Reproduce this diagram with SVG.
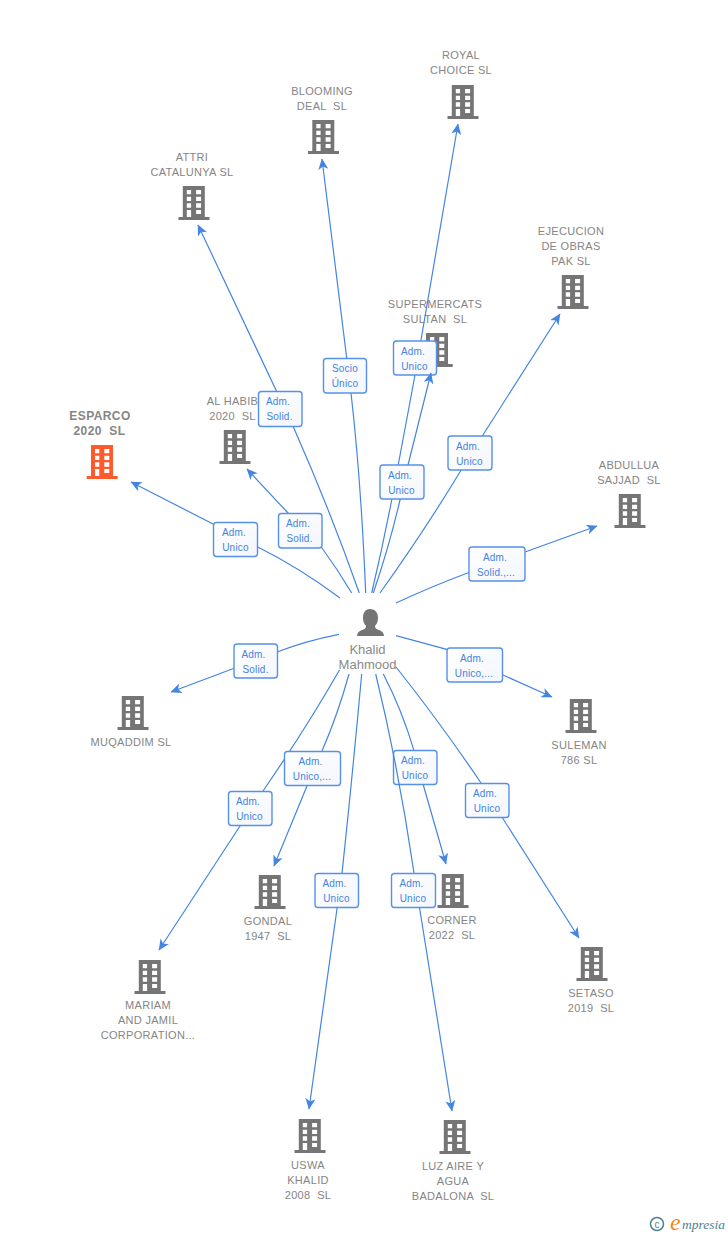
<svg xmlns="http://www.w3.org/2000/svg" width="728" height="1235" viewBox="0 0 728 1235">
<style>
.n{font:11px "Liberation Sans",Arial,sans-serif;fill:#858585;text-anchor:middle;white-space:pre;letter-spacing:.3px}
.h{font:bold 12px "Liberation Sans",Arial,sans-serif;fill:#858585;text-anchor:middle;white-space:pre;letter-spacing:.4px}
.p{font:13px "Liberation Sans",Arial,sans-serif;fill:#8a8a8a;text-anchor:middle}
.l{font:10px "Liberation Sans",Arial,sans-serif;fill:#4583e0;text-anchor:middle;letter-spacing:.2px}
.c{fill:none;stroke:#4485e2;stroke-width:1.2}
.b{fill:url(#g);stroke:#5691e8;stroke-width:1.4}
</style>
<defs>
<linearGradient id="g" x1="0" y1="0" x2="1" y2="1"><stop offset="0" stop-color="#fff"/><stop offset="1" stop-color="#f3f6fb"/></linearGradient>
<marker id="a" markerUnits="userSpaceOnUse" markerWidth="13" markerHeight="11" refX="10.500" refY="5" orient="auto"><path d="M0 0L11 5L0 10L3 5Z" fill="#4485e2"/></marker>
<path id="bd" fill-rule="evenodd" d="M4.300 0H26.300V31H31V34H0V31H4.300ZM8.300 4V8.300H12.600V4ZM17.600 4V8.300H22.600V4ZM8.300 10.700V15H12.600V10.700ZM17.600 10.700V15H22.600V10.700ZM8.300 17.300V21.700H12.600V17.300ZM17.600 17.300V21.700H22.600V17.300ZM8.300 24V31H12.600V24ZM17.600 24V28H22.600V24Z"/>
</defs>
<g id="person"><path fill="#757575" d="M370 609C375.500 609 378 613 378 618C378 621 377 624 375 626C375 628 376 629 379 630C382 631 384 633 384 636H357C357 633 359 631 362 630C365 629 366 628 366 626C364 624 363 621 363 618C363 613 365 609 370 609Z"/><text class="p" x="367.500" y="654">Khalid</text><text class="p" x="367.500" y="669">Mahmood</text></g>
<g id="esparco" fill="#ff5a2b"><use href="#bd" x="86.700" y="445"/><text class="h" x="100" y="420">ESPARCO</text><text class="h" x="99.500" y="435">2020  SL</text></g>
<g id="alhabib" fill="#757575"><use href="#bd" x="219.500" y="430"/><text class="n" x="232.500" y="405">AL HABIB</text><text class="n" x="232.500" y="420">2020  SL</text></g>
<g id="attri" fill="#757575"><use href="#bd" x="178.500" y="186"/><text class="n" x="192" y="161">ATTRI</text><text class="n" x="192" y="176">CATALUNYA SL</text></g>
<g id="blooming" fill="#757575"><use href="#bd" x="308" y="120"/><text class="n" x="322" y="95">BLOOMING</text><text class="n" x="322" y="110">DEAL  SL</text></g>
<g id="royal" fill="#757575"><use href="#bd" x="447.500" y="85"/><text class="n" x="461" y="59">ROYAL</text><text class="n" x="461" y="74">CHOICE SL</text></g>
<g id="supermercats" fill="#757575"><use href="#bd" x="421.700" y="333"/><text class="n" x="435" y="308">SUPERMERCATS</text><text class="n" x="435" y="323">SULTAN  SL</text></g>
<g id="ejecucion" fill="#757575"><use href="#bd" x="557.500" y="275"/><text class="n" x="571" y="235">EJECUCION</text><text class="n" x="571" y="250">DE OBRAS</text><text class="n" x="571" y="265">PAK SL</text></g>
<g id="abdullua" fill="#757575"><use href="#bd" x="614.500" y="494"/><text class="n" x="629" y="469">ABDULLUA</text><text class="n" x="629" y="484">SAJJAD  SL</text></g>
<g id="suleman" fill="#757575"><use href="#bd" x="565.500" y="699"/><text class="n" x="579" y="749">SULEMAN</text><text class="n" x="579" y="764">786 SL</text></g>
<g id="muqaddim" fill="#757575"><use href="#bd" x="117.500" y="696"/><text class="n" x="131" y="746">MUQADDIM SL</text></g>
<g id="gondal" fill="#757575"><use href="#bd" x="254.500" y="875"/><text class="n" x="268" y="925">GONDAL</text><text class="n" x="268" y="940">1947  SL</text></g>
<g id="corner" fill="#757575"><use href="#bd" x="437.500" y="874"/><text class="n" x="452" y="924">CORNER</text><text class="n" x="452" y="939">2022  SL</text></g>
<g id="setaso" fill="#757575"><use href="#bd" x="576.500" y="947"/><text class="n" x="591" y="997">SETASO</text><text class="n" x="591" y="1012">2019  SL</text></g>
<g id="mariam" fill="#757575"><use href="#bd" x="134.500" y="960"/><text class="n" x="148" y="1009">MARIAM</text><text class="n" x="148" y="1024">AND JAMIL</text><text class="n" x="148" y="1039">CORPORATION...</text></g>
<g id="uswa" fill="#757575"><use href="#bd" x="294.500" y="1119"/><text class="n" x="308" y="1169">USWA</text><text class="n" x="308" y="1184">KHALID</text><text class="n" x="308" y="1199">2008  SL</text></g>
<g id="luz" fill="#757575"><use href="#bd" x="439.500" y="1120"/><text class="n" x="453" y="1170">LUZ AIRE Y</text><text class="n" x="453" y="1185">AGUA</text><text class="n" x="453" y="1200">BADALONA  SL</text></g>
<g id="logo"><circle cx="657" cy="1224" r="6.500" fill="none" stroke="#4f8195" stroke-width="1.500"/><text x="657" y="1227.500" font-family="Liberation Sans,sans-serif" font-size="10" fill="#4f8195" text-anchor="middle">c</text><text x="670" y="1230" font-family="Liberation Serif,serif" font-style="italic" font-size="24" fill="#f08a1d">e</text><text x="682" y="1229" font-family="Liberation Serif,serif" font-style="italic" font-size="13.500" fill="#4f8195">mpresia</text></g>
<g id="connectors">
<path class="c" marker-end="url(#a)" d="M340 598Q300 568 257.300 546.700L214 524.500L131 482"/>
<rect class="b" x="213.500" y="522.500" width="44" height="34" rx="3"/><text class="l" x="234" y="535.500">Adm.</text><text class="l" x="235.500" y="550.500">Unico</text>
<path class="c" marker-end="url(#a)" d="M351.700 593Q338 570 322 548L288 513L247 469"/>
<rect class="b" x="278.500" y="513.500" width="43.500" height="34.500" rx="3"/><text class="l" x="298" y="527">Adm.</text><text class="l" x="299.500" y="542">Solid.</text>
<path class="c" marker-end="url(#a)" d="M359.300 593Q330 510 293.300 426.700L198 225"/>
<rect class="b" x="258.500" y="391.500" width="43.500" height="35" rx="3"/><text class="l" x="278" y="405">Adm.</text><text class="l" x="279.500" y="420">Solid.</text>
<path class="c" marker-end="url(#a)" d="M365.700 593Q361 480 351 393L346.700 358L322 159"/>
<rect class="b" x="323.500" y="358.500" width="43" height="34.500" rx="3"/><text class="l" x="345" y="372">Socio</text><text class="l" x="345" y="387">Único</text>
<path class="c" marker-end="url(#a)" d="M371.700 593Q383 545 391.700 500L415 375L458 124"/>
<rect class="b" x="393.500" y="341" width="43" height="34" rx="3"/><text class="l" x="413" y="354.500">Adm.</text><text class="l" x="414.500" y="369.500">Unico</text>
<path class="c" marker-end="url(#a)" d="M373.300 593Q389 547 400 500L408 465L431 373"/>
<rect class="b" x="380" y="465" width="44" height="34" rx="3"/><text class="l" x="400" y="478.500">Adm.</text><text class="l" x="401.500" y="493.500">Unico</text>
<path class="c" marker-end="url(#a)" d="M380 593Q425 530 460.700 470.700L482.300 436L560 314"/>
<rect class="b" x="448" y="436" width="44" height="34" rx="3"/><text class="l" x="468" y="449.500">Adm.</text><text class="l" x="469.500" y="464.500">Unico</text>
<path class="c" marker-end="url(#a)" d="M396 603Q430 587 468.300 572.700L525 552L597 526"/>
<rect class="b" x="469" y="547" width="56" height="34" rx="3"/><text class="l" x="495" y="560.500">Adm.</text><text class="l" x="496" y="575.500">Solid.,...</text>
<path class="c" marker-end="url(#a)" d="M396 635.700L446.700 649.300L503 675L552 697"/>
<rect class="b" x="447" y="648" width="55.500" height="34" rx="3"/><text class="l" x="472" y="661.500">Adm.</text><text class="l" x="474" y="676.500">Unico,...</text>
<path class="c" marker-end="url(#a)" d="M339 634.300Q305 641 277 652L233.500 668.500L171 692"/>
<rect class="b" x="234" y="644" width="43.500" height="34" rx="3"/><text class="l" x="253.500" y="657.500">Adm.</text><text class="l" x="255.500" y="672.500">Solid.</text>
<path class="c" marker-end="url(#a)" d="M339.500 670Q305 730 263 791L240 826L159 950"/>
<rect class="b" x="228.500" y="791.500" width="43.500" height="34" rx="3"/><text class="l" x="248" y="805">Adm.</text><text class="l" x="249.500" y="820">Unico</text>
<path class="c" marker-end="url(#a)" d="M349 674Q338 714 322 751L307 786L274 866"/>
<rect class="b" x="284.500" y="751.500" width="56" height="34" rx="3"/><text class="l" x="310.500" y="765">Adm.</text><text class="l" x="312" y="780">Unico,...</text>
<path class="c" marker-end="url(#a)" d="M361.700 674Q352 780 342 873L309 1109"/>
<rect class="b" x="315" y="873.500" width="43.500" height="34" rx="3"/><text class="l" x="334.500" y="887">Adm.</text><text class="l" x="336.500" y="902">Unico</text>
<path class="c" marker-end="url(#a)" d="M383.300 674Q402 710 414 750.700L423.300 785L446 864"/>
<rect class="b" x="393.500" y="750.500" width="43.500" height="34" rx="3"/><text class="l" x="413" y="764">Adm.</text><text class="l" x="415" y="779">Unico</text>
<path class="c" marker-end="url(#a)" d="M375.700 674Q399 770 414 873L452 1111"/>
<rect class="b" x="391.500" y="873.500" width="44" height="34" rx="3"/><text class="l" x="411.500" y="887">Adm.</text><text class="l" x="413" y="902">Unico</text>
<path class="c" marker-end="url(#a)" d="M396 667Q442 725 481.700 784L502.700 818.300L579 938"/>
<rect class="b" x="465.500" y="783.500" width="43.500" height="34" rx="3"/><text class="l" x="485" y="797">Adm.</text><text class="l" x="487" y="812">Unico</text>
</g>
</svg>
